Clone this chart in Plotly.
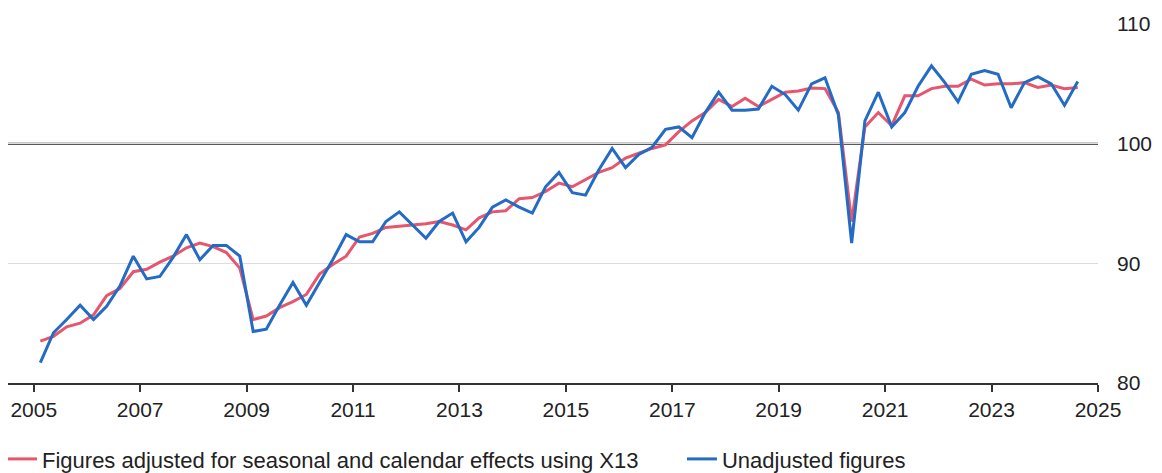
import pandas as pd
import plotly.graph_objects as go

# Quarterly index, 2005Q1 .. 2024Q3
quarters = pd.period_range("2005Q1", "2024Q3", freq="Q")

adjusted = [
    83.5, 83.9, 84.7, 85.0, 85.7, 87.3, 87.9, 89.3,
    89.5, 90.1, 90.6, 91.3, 91.7, 91.4, 90.9, 89.6,
    85.3, 85.6, 86.3, 86.8, 87.4, 89.1, 89.9, 90.6,
    92.2, 92.5, 93.0, 93.1, 93.2, 93.3, 93.5, 93.2,
    92.8, 93.8, 94.3, 94.4, 95.4, 95.5, 96.0, 96.7,
    96.4, 97.0, 97.6, 98.0, 98.8, 99.2, 99.6, 99.9,
    101.0, 101.9, 102.6, 103.7, 103.1, 103.8, 103.1, 103.7,
    104.3, 104.4, 104.65, 104.6, 102.6, 93.5, 101.4, 102.6,
    101.5, 104.0, 104.0, 104.6, 104.8, 104.8, 105.4, 104.9,
    105.0, 105.0, 105.1, 104.7, 104.9, 104.6, 104.7,
]
unadjusted = [
    81.7, 84.2, 85.3, 86.5, 85.3, 86.4, 88.1, 90.6,
    88.7, 88.9, 90.5, 92.4, 90.3, 91.5, 91.5, 90.6,
    84.3, 84.5, 86.5, 88.4, 86.5, 88.4, 90.3, 92.4,
    91.8, 91.8, 93.5, 94.3, 93.2, 92.1, 93.5, 94.2,
    91.8, 93.0, 94.7, 95.3, 94.7, 94.2, 96.4, 97.6,
    95.9, 95.7, 97.8, 99.6, 98.0, 99.1, 99.7, 101.2,
    101.4, 100.5, 102.6, 104.3, 102.8, 102.8, 102.9, 104.8,
    104.1, 102.8, 105.0, 105.5, 102.4, 91.7, 101.9, 104.3,
    101.4, 102.6, 104.8, 106.5, 105.1, 103.5, 105.8, 106.1,
    105.8, 103.0, 105.1, 105.6, 105.0, 103.2, 105.2,
]

x_dates = [q.start_time + pd.Timedelta(days=45) for q in quarters]

FONT = "Liberation Sans, Arial, Helvetica, sans-serif"
RED = "#e6566c"
BLUE = "#236bc4"
TXT = "#222222"

fig = go.Figure()
fig.add_trace(go.Scatter(
    x=x_dates, y=adjusted, mode="lines",
    name="Figures adjusted for seasonal and calendar effects using X13",
    line=dict(color=RED, width=3), legend="legend",
))
fig.add_trace(go.Scatter(
    x=x_dates, y=unadjusted, mode="lines",
    name="Unadjusted figures",
    line=dict(color=BLUE, width=3), legend="legend2",
))

fig.add_shape(type="line", xref="paper", x0=0, x1=1, yref="y", y0=100, y1=100,
              line=dict(color="#222222", width=2), layer="below")

legend_common = dict(orientation="h", xanchor="left", y=-0.212, yanchor="middle",
                     font=dict(size=22, color=TXT), bgcolor="rgba(0,0,0,0)")

# page body has an 8px default margin, so the figure is sized to fit inside it
fig.update_layout(
    width=1154, height=465,
    margin=dict(l=0, r=64, t=16, b=90, autoexpand=False),
    paper_bgcolor="white", plot_bgcolor="white",
    font=dict(family=FONT, size=21, color=TXT),
    showlegend=True,
    legend=dict(x=-0.0055, **legend_common),
    legend2=dict(x=0.6183, **legend_common),
    xaxis=dict(
        type="date", range=["2004-07-08", "2025-01-01"],
        tick0="2005-01-01", dtick="M24", tickformat="%Y",
        showgrid=False, zeroline=False, automargin=False,
        showline=True, linecolor="#333333", linewidth=1.5,
        ticks="outside", ticklen=7, tickcolor="#333333", tickwidth=1.5,
        tickfont=dict(size=21, color=TXT),
    ),
    yaxis=dict(
        side="right", range=[80, 110], dtick=10, tick0=80,
        showgrid=True, gridcolor="#dddddd", gridwidth=1,
        zeroline=False, showline=False, ticks="", automargin=False,
        ticklabelstandoff=18,
        tickfont=dict(size=21, color=TXT),
    ),
)

fig.write_html("out.html")
